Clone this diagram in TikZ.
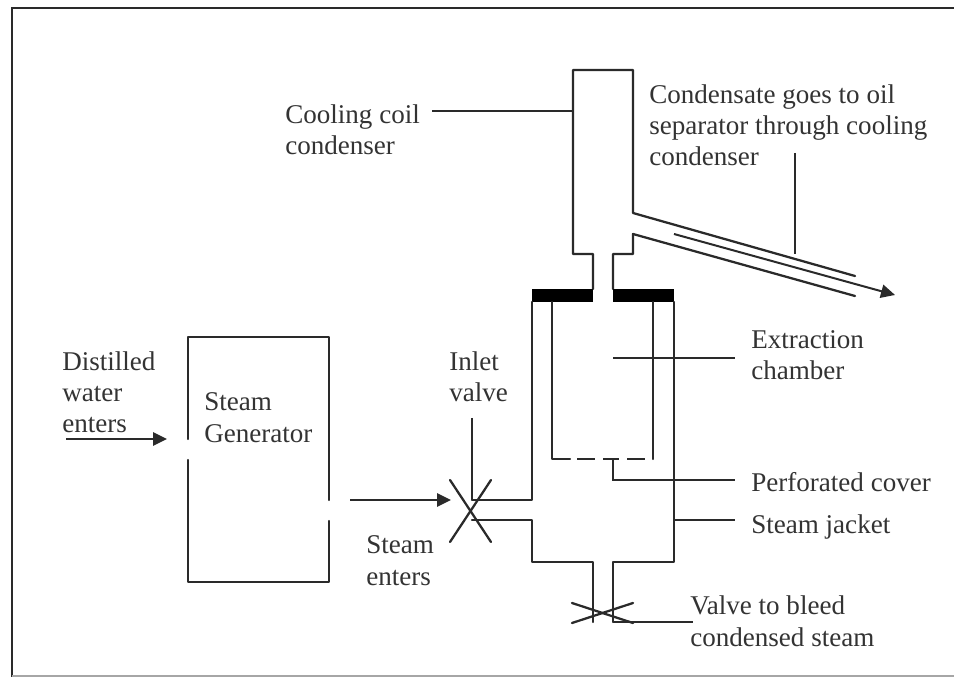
\documentclass[tikz,border=0pt]{standalone}
\usepackage{fontspec}
\setmainfont{Liberation Serif}
\usetikzlibrary{arrows.meta}
\definecolor{ink}{HTML}{2A2A2A}
\definecolor{txt}{HTML}{333333}
\tikzset{
  wall/.style={draw=ink,line width=1.7pt,line cap=round,line join=round},
  lead/.style={draw=ink,line width=1.5pt},
  flow/.style={draw=ink,line width=1.5pt,-{Triangle[length=10.5pt,width=10pt]}},
  plate/.style={fill=black,draw=none},
  lbl/.style={inner sep=0pt,anchor=base west,align=left,font=\fontsize{20.3pt}{23.6pt}\selectfont,text=txt},
}
\begin{document}
\begin{tikzpicture}[x=0.75pt,y=-0.75pt]
\useasboundingbox (0,0) rectangle (954,677);
% frame
\draw[draw=ink,line width=1.6pt] (12,677) -- (12,8) -- (954,8);
\draw[draw=gray!70,line width=1pt] (12,676) -- (954,676);
% labels
\node[lbl] (coil) at (285,155) {Cooling coil\\condenser};
\node[lbl] (cond) at (649,166) {Condensate goes to oil\\separator through cooling\\condenser};
\node[lbl] (extr) at (751,380) {Extraction\\chamber};
\node[lbl] (perf) at (751,492) {Perforated cover};
\node[lbl] (jack) at (751,533) {Steam jacket};
\node[lbl] (vlv) at (690,646) {Valve to bleed\\condensed steam};
\node[lbl] (inl) at (449,402) {Inlet\\valve};
\node[lbl] (sten) at (366,585) {Steam\\enters};
\node[lbl] (dist) at (62,433) {Distilled\\water\\enters};
\node[lbl] (gen) at (204,442) {Steam\\Generator};
% steam generator
\coordinate (g1) at (188,439); \coordinate (g2) at (188,337); \coordinate (g3) at (329,337); \coordinate (g4) at (329,500);
\coordinate (g5) at (329,521); \coordinate (g6) at (329,582); \coordinate (g7) at (188,582); \coordinate (g8) at (188,460);
\draw[wall] (g1) -- (g2) -- (g3) -- (g4);
\draw[wall] (g5) -- (g6) -- (g7) -- (g8);
% condenser
\coordinate (c1) at (593,289); \coordinate (c2) at (593,254); \coordinate (c3) at (573,254); \coordinate (c4) at (573,70);
\coordinate (c5) at (633,70); \coordinate (c6) at (633,213); \coordinate (c7) at (855,276);
\coordinate (d1) at (613,289); \coordinate (d2) at (613,254); \coordinate (d3) at (633,254); \coordinate (d4) at (633,234); \coordinate (d5) at (855,296);
\draw[wall] (c1) -- (c2) -- (c3) -- (c4) -- (c5) -- (c6) -- (c7);
\draw[wall] (d1) -- (d2) -- (d3) -- (d4) -- (d5);
% plates
\fill[plate] (532,289) rectangle (593,302);
\fill[plate] (613,289) rectangle (674,302);
% jacket
\coordinate (j1) at (532,302); \coordinate (j2) at (532,500); \coordinate (j3) at (472,500);
\coordinate (j4) at (472,520); \coordinate (j5) at (532,520); \coordinate (j6) at (532,562); \coordinate (j7) at (593,562); \coordinate (j8) at (593,622);
\coordinate (k1) at (674,302); \coordinate (k2) at (674,562); \coordinate (k3) at (613,562); \coordinate (k4) at (613,622);
\draw[wall] (j1) -- (j2) -- (j3);
\draw[wall] (j4) -- (j5) -- (j6) -- (j7) -- (j8);
\draw[wall] (k1) -- (k2) -- (k3) -- (k4);
% inner chamber
\coordinate (i1) at (552,302); \coordinate (i2) at (552,459); \coordinate (i3) at (570,459);
\coordinate (i4) at (653,302); \coordinate (i5) at (653,459);
\draw[wall] (i1) -- (i2) -- (i3);
\draw[wall] (i4) -- (i5);
\draw[wall,line cap=butt] (577,459) -- (595,459) (603,459) -- (619,459) (627,459) -- (645,459);
% valves
\coordinate (va) at (450,480); \coordinate (vb) at (491,542); \coordinate (vc) at (491,480); \coordinate (vd) at (450,542);
\draw[wall] (va) -- (vb);
\draw[wall] (vc) -- (vd);
\coordinate (wa) at (572,603); \coordinate (wb) at (633,623); \coordinate (wc) at (633,603); \coordinate (wd) at (572,623);
\draw[wall] (wa) -- (wb);
\draw[wall] (wc) -- (wd);
% leaders
\coordinate (l1) at (432,111); \coordinate (l2) at (573,111);
\draw[lead] (l1) -- (l2);
\coordinate (l3) at (795,153); \coordinate (l4) at (795,254);
\draw[lead] (l3) -- (l4);
\coordinate (l5) at (613,358); \coordinate (l6) at (735,358);
\draw[lead] (l5) -- (l6);
\coordinate (l7) at (613,459); \coordinate (l8) at (613,480); \coordinate (l9) at (735,480);
\draw[lead] (l7) -- (l8) -- (l9);
\coordinate (l10) at (674,520); \coordinate (l11) at (735,520);
\draw[lead] (l10) -- (l11);
\coordinate (l12) at (613,622); \coordinate (l13) at (693,622);
\draw[lead] (l12) -- (l13);
\coordinate (l14) at (472,418);
\draw[lead] (l14) -- (j3);
% flow arrows
\coordinate (f1) at (66,439); \coordinate (f2) at (167,439);
\draw[flow] (f1) -- (f2);
\coordinate (f3) at (350,500); \coordinate (f4) at (451,500);
\draw[flow] (f3) -- (f4);
\coordinate (f5) at (674,234); \coordinate (f6) at (895,295);
\draw[flow] (f5) -- (f6);
\end{tikzpicture}
\end{document}
